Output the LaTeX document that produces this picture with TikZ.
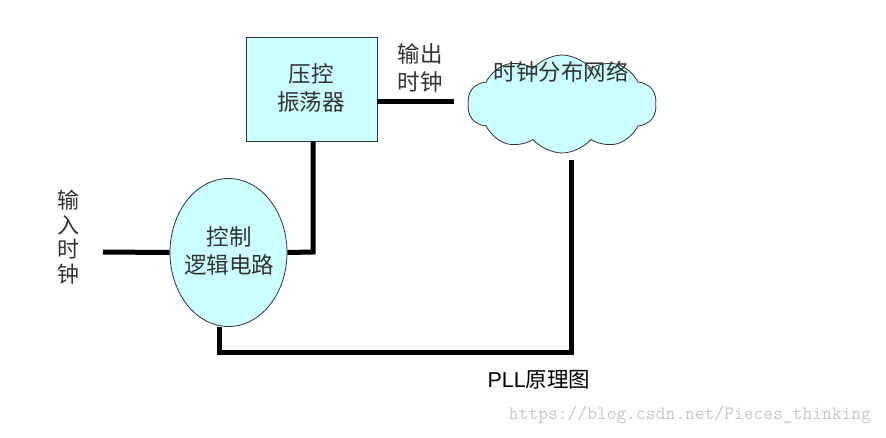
\documentclass[tikz,border=0pt]{standalone}
\usepackage{fontspec}
\setmainfont{Liberation Sans}
\newfontfamily\cjk{Noto Sans CJK SC}
\usetikzlibrary{shapes.geometric,shapes.symbols}
\definecolor{lcyan}{HTML}{CCFFFF}
\definecolor{txt}{HTML}{333333}
\tikzset{
  blk/.style={draw=black!80, line width=0.8pt, fill=lcyan},
  wire/.style={line width=5pt, black},
  lbl/.style={text=txt, font=\cjk\fontsize{22.5}{28}\selectfont, align=center, inner sep=0pt},
}
\begin{document}
\begin{tikzpicture}[x=1pt,y=-1pt]
\useasboundingbox (0,0) rectangle (886,437);
\node[blk, minimum width=131pt, minimum height=104pt, inner sep=0pt] (vco) at (311.5,89) {};
\node[lbl] (vcot) at (311,88) {压控\\振荡器};
\node[blk, ellipse, minimum width=117pt, minimum height=148pt, inner sep=0pt] (ctl) at (228.5,252.5) {};
\node[lbl] (ctlt) at (229,251) {控制\\逻辑电路};
\node[blk, cloud, cloud puffs=10, cloud puff arc=100, aspect=2, minimum width=189pt, minimum height=98pt, inner sep=0pt] (net) at (562,104) {};
\node[lbl] (nett) at (561,72) {时钟分布网络};
\node[lbl] (outl) at (420,68) {输出\\时钟};
\node[lbl, font=\cjk\fontsize{22}{24.5}\selectfont] (inl) at (68,237) {输\\入\\时\\钟};
\coordinate (inst) at (103,252);
\coordinate (outend) at (454,101);
\coordinate (c1) at (313,252);
\coordinate (c2) at (571,160);
\coordinate (c3) at (571,352);
\coordinate (c4) at (219,352);
\draw[wire] (inst) -- (ctl.west);
\draw[wire] (vco.east |- outend) -- (outend);
\draw[wire] (ctl.east) -- (c1) -- (c1 |- vco.south);
\draw[wire] (c2) -- (c3) -- (c4) -- (c4 |- ctl.south);
\node[text=black, font=\fontsize{21.5}{24}\selectfont, inner sep=0pt] (title) at (539,380) {PLL{\cjk 原理图}};
\node[text=black!22, font=\ttfamily\fontsize{19}{22}\selectfont, inner sep=0pt] (wm) at (690,415) {https://blog.csdn.net/Pieces\_thinking};
\end{tikzpicture}
\end{document}
